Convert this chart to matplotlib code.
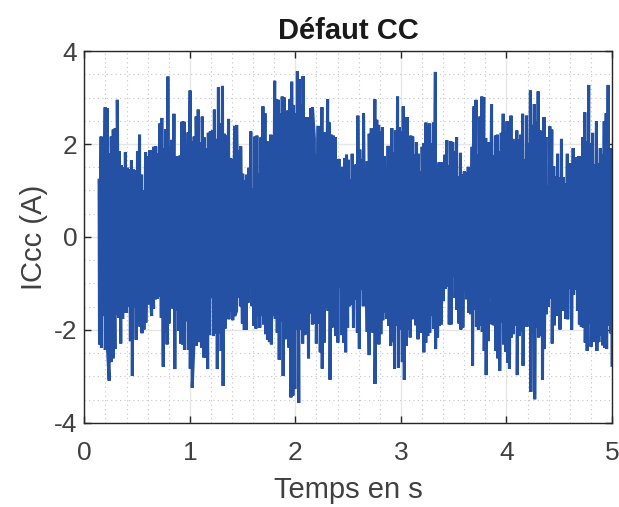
import numpy as np
import matplotlib.pyplot as plt
from matplotlib.ticker import MultipleLocator

plt.rcParams['font.family'] = ['Liberation Sans', 'DejaVu Sans']
plt.rcParams['axes.unicode_minus'] = False

# Signal: upper and lower envelope of ICcc (A),
# three consecutive time segments (s)
seg_edges = [0.14, 1.75, 3.38, 5.0]

ic_max_1 = [1.22, 2.16, 1.91, 2.79, 2.77, 1.79, 2.16, 2.31, 2.34, 2.95, 1.84, 1.54, 1.50, 1.82,
            1.49, 1.46, 1.65, 1.45, 1.44, 1.84, 2.20, 1.34, 1.00, 1.82, 1.74, 1.86, 1.86, 1.94,
            1.95, 1.79, 2.44, 2.56, 1.91, 2.32, 3.45, 1.94, 2.09, 2.65, 1.74, 1.74, 1.75, 2.48,
            2.48, 1.96, 2.25, 3.15, 2.05, 2.16, 2.59, 2.74, 2.04, 2.59, 2.14, 1.91, 2.24, 2.27,
            2.29, 2.74, 2.11, 3.22, 2.45, 3.25, 2.22, 2.18, 2.54, 1.70, 1.68, 2.39, 2.41, 1.86,
            1.95, 1.36, 1.22, 1.34, 1.49, 2.27, 1.05, 2.16, 2.18, 1.36, 2.14, 2.81, 2.66, 2.06, 1.95]
ic_max_2 = [1.91, 2.20, 2.16, 3.36, 2.96, 2.95, 2.66, 3.02, 3.00, 1.94, 2.72, 2.96, 3.34, 2.84,
            2.66, 3.56, 3.39, 2.84, 3.46, 2.31, 2.58, 2.58, 2.77, 2.79, 2.11, 1.77, 2.39, 2.09,
            2.79, 2.25, 2.24, 2.96, 2.46, 2.20, 2.18, 2.15, 1.63, 1.68, 1.41, 1.51, 1.70, 1.77,
            1.66, 1.24, 1.79, 1.32, 1.56, 2.61, 1.88, 1.66, 2.66, 1.46, 1.63, 2.22, 2.31, 2.31,
            2.96, 2.52, 2.41, 2.27, 2.36, 1.74, 1.34, 1.96, 1.82, 2.34, 1.82, 2.29, 3.02, 2.36,
            2.27, 2.81, 2.20, 2.58, 1.98, 2.18, 2.16, 1.77, 2.04, 1.79, 1.41, 1.94, 2.02, 2.46,
            2.06, 2.44, 2.02, 2.46, 3.55, 1.56, 1.61, 1.61]
ic_max_3 = [1.61, 1.41, 1.77, 2.08, 1.54, 2.06, 2.04, 1.84, 2.15, 1.31, 1.81, 1.34, 1.41, 1.38,
            1.51, 1.16, 1.94, 2.81, 2.95, 1.77, 2.59, 3.02, 3.01, 2.13, 2.04, 2.04, 2.86, 1.75,
            2.18, 2.20, 1.84, 2.24, 2.65, 2.27, 2.49, 2.46, 2.61, 2.11, 2.06, 2.29, 2.09, 2.20,
            2.65, 1.66, 2.61, 2.02, 3.15, 2.41, 2.86, 2.49, 3.13, 2.29, 2.09, 2.58, 2.15, 1.11,
            2.38, 2.31, 1.52, 1.31, 1.79, 1.29, 2.11, 1.29, 1.15, 1.79, 1.58, 1.59, 1.91, 1.51,
            1.72, 1.74, 1.74, 2.15, 2.68, 2.06, 3.27, 2.02, 2.24, 1.56, 2.49, 1.58, 1.91, 1.77,
            2.49, 2.66, 3.27, 1.91, 1.79]

ic_min_1 = [-2.31, -2.38, -1.70, -2.43, -2.29, -3.09, -2.69, -2.61, -2.41, -1.66, -1.74, -2.29,
            -1.76, -1.63, -1.63, -1.49, -2.24, -2.99, -1.51, -2.21, -1.90, -1.93, -2.07, -1.99,
            -1.84, -1.45, -0.99, -1.70, -1.54, -1.34, -1.33, -1.29, -1.74, -2.79, -2.06, -2.31,
            -1.86, -1.50, -1.54, -2.84, -1.59, -2.02, -2.29, -2.31, -2.43, -1.81, -2.43, -2.83,
            -3.24, -2.21, -2.34, -2.26, -2.26, -2.38, -2.59, -2.59, -2.84, -2.11, -1.31, -2.13,
            -2.07, -2.84, -2.07, -2.45, -3.20, -1.97, -1.66, -1.77, -1.61, -1.79, -1.70, -1.59,
            -1.31, -1.49, -1.86, -2.00, -2.00, -1.41, -1.06, -1.49, -1.91, -1.97, -1.70, -1.95,
            -1.70, -1.88, -2.09, -2.21, -2.21]
ic_min_2 = [-2.26, -2.31, -1.70, -1.76, -2.06, -2.64, -1.81, -2.99, -2.20, -2.19, -2.38, -3.45,
            -3.41, -3.27, -1.99, -3.57, -2.00, -2.29, -2.11, -2.09, -2.61, -1.64, -1.88, -1.86,
            -2.29, -1.86, -2.48, -2.83, -2.27, -1.52, -1.59, -3.07, -1.95, -1.91, -2.13, -2.27,
            -1.09, -2.11, -2.27, -2.48, -1.95, -1.49, -1.45, -1.95, -1.34, -2.06, -2.41, -1.14,
            -1.49, -1.26, -2.04, -2.54, -1.99, -2.06, -3.16, -1.99, -2.31, -2.09, -1.79, -1.63,
            -1.76, -1.91, -2.34, -2.26, -2.83, -1.91, -2.81, -1.99, -2.69, -3.07, -2.34, -1.99,
            -2.16, -1.77, -1.70, -1.90, -2.20, -2.06, -2.06, -2.48, -2.27, -2.13, -2.06, -1.70,
            -1.97, -2.41, -2.16, -1.91, -1.88]
ic_min_3 = [-1.38, -1.38, -1.11, -1.06, -1.88, -1.88, -0.84, -1.31, -1.57, -1.86, -1.99, -1.95,
            -1.16, -1.34, -1.63, -1.66, -2.77, -1.57, -1.93, -1.99, -1.90, -2.04, -2.45, -2.97,
            -2.24, -1.31, -1.88, -1.90, -2.45, -2.61, -2.88, -1.84, -2.31, -2.47, -2.71, -2.83,
            -2.16, -2.09, -1.91, -2.97, -2.13, -2.04, -2.77, -1.61, -1.93, -1.45, -3.33, -2.06,
            -3.49, -1.95, -2.16, -2.13, -3.07, -2.41, -1.66, -1.50, -1.33, -2.29, -1.90, -1.70,
            -1.66, -1.99, -1.45, -1.59, -1.76, -1.77, -1.11, -2.00, -1.24, -1.14, -1.59, -1.88,
            -1.93, -1.95, -2.27, -2.45, -1.86, -2.36, -2.26, -1.86, -2.45, -2.26, -2.11, -2.33,
            -2.38, -2.41, -1.90, -2.07, -2.76]

x_ticks = [0, 1, 2, 3, 4, 5]
y_ticks = [-4, -2, 0, 2, 4]

# Build the dense signal: peaks and troughs of each segment merged in time order
t_parts, y_parts = [], []
segments = [(ic_max_1, ic_min_1), (ic_max_2, ic_min_2), (ic_max_3, ic_min_3)]
for k, (hi, lo) in enumerate(segments):
    t_parts.append(np.linspace(seg_edges[k], seg_edges[k + 1], len(hi)))
    y_parts.append(np.array(hi))
    t_parts.append(np.linspace(seg_edges[k], seg_edges[k + 1], len(lo)) + 0.004)
    y_parts.append(np.array(lo))
t = np.concatenate(t_parts)
sig = np.concatenate(y_parts)
order = np.argsort(t, kind='stable')
t, sig = t[order], sig[order]
t = np.clip(t, None, 5.0)

fig = plt.figure(figsize=(6.19, 5.07), dpi=100)
ax = fig.add_axes([0.1362, 0.1657, 0.8525, 0.7337])

ax.plot(t, sig, color='#2451a4', linewidth=2.2, solid_joinstyle='miter')

ax.set_xlim(0, 5)
ax.set_ylim(-4, 4)
ax.set_xticks(x_ticks)
ax.set_yticks(y_ticks)
ax.xaxis.set_minor_locator(MultipleLocator(0.2))
ax.yaxis.set_minor_locator(MultipleLocator(0.5))

ax.set_axisbelow(True)
ax.grid(True, which='major', color='#e6e6e6', linewidth=1.0, linestyle='-')
ax.grid(True, which='minor', color='#c4c4c4', linewidth=0.8, linestyle=(0, (1, 3)))

ax.tick_params(which='major', direction='in', top=True, right=True, length=5,
               width=1, color='#262626', labelsize=19, labelcolor='#404040')
ax.tick_params(axis='x', which='major', pad=13)
ax.tick_params(axis='y', which='major', pad=5)
ax.tick_params(which='minor', length=0)
for sp in ax.spines.values():
    sp.set_color('#262626')
    sp.set_linewidth(1.0)

ax.set_title('Défaut CC', fontsize=21, fontweight='bold', color='#1a1a1a', pad=9)
ax.set_xlabel('Temps en s', fontsize=21, color='#404040', labelpad=8)
ax.set_ylabel('ICcc (A)', fontsize=21, color='#404040', labelpad=4)

fig.savefig('out.png', dpi=100)
